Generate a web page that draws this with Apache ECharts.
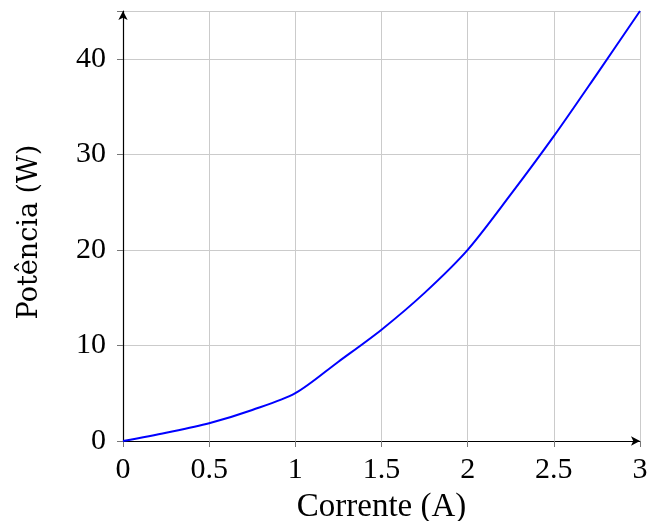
<!DOCTYPE html>
<html>
<head>
<meta charset="utf-8">
<script src="https://cdn.jsdelivr.net/npm/echarts@6/dist/echarts.min.js"></script>
<style>html,body{margin:0;padding:0;background:#fff}#c{width:649px;height:521px}</style>
</head>
<body>
<div id="c"></div>
<script>
const current = [0, 0.25, 0.5, 0.75, 1, 1.25, 1.5, 1.75, 2, 2.25, 2.5, 2.75, 3];
const power = [0, 0.87, 1.86, 3.25, 5.0, 8.3, 11.65, 15.5, 20, 25.8, 31.9, 38.4, 45];
const xTicks = [0, 0.5, 1, 1.5, 2, 2.5, 3];
const yTicks = [0, 10, 20, 30, 40];

const font = 'Liberation Serif';
const chart = echarts.init(document.getElementById('c'));
chart.setOption({
  animation: false,
  grid: {left: 123, right: 9, top: 11, bottom: 80, outerBoundsMode: 'none', containLabel: false},
  xAxis: {
    type: 'value', min: 0, max: 3, interval: 0.5,
    name: 'Corrente (A)', nameLocation: 'middle', nameGap: 50,
    nameTextStyle: {fontFamily: font, fontSize: 33, color: '#000'},
    axisLine: {show: true, lineStyle: {color: '#000', width: 1.2}, symbol: ['none', 'arrow'], symbolSize: [7, 9]},
    axisTick: {show: true, length: 6, lineStyle: {color: '#777'}},
    axisLabel: {fontFamily: font, fontSize: 30, color: '#000', margin: 14,
      formatter: v => xTicks.includes(v) ? String(v) : ''},
    splitLine: {show: true, lineStyle: {color: '#cbcbcb', width: 1}}
  },
  yAxis: {
    type: 'value', min: 0, max: 45, interval: 10,
    name: 'Potência (W)', nameLocation: 'middle', nameGap: 80, nameRotate: 90,
    nameTextStyle: {fontFamily: 'DejaVu Serif', fontSize: 27, color: '#000', padding: [0, 12, 0, 0]},
    axisLine: {show: true, lineStyle: {color: '#000', width: 1.2}, symbol: ['none', 'arrow'], symbolSize: [7, 9]},
    axisTick: {show: true, length: 6, lineStyle: {color: '#777'}},
    axisLabel: {fontFamily: font, fontSize: 30, color: '#000', margin: 17,
      formatter: v => yTicks.includes(v) ? String(v) : ''},
    splitLine: {show: true, lineStyle: {color: '#cbcbcb', width: 1}}
  },
  series: [{
    type: 'line',
    data: current.map((c, i) => [c, power[i]]),
    smooth: 0.3,
    showSymbol: false,
    lineStyle: {color: '#0000ff', width: 2}
  }]
});
</script>
</body>
</html>
